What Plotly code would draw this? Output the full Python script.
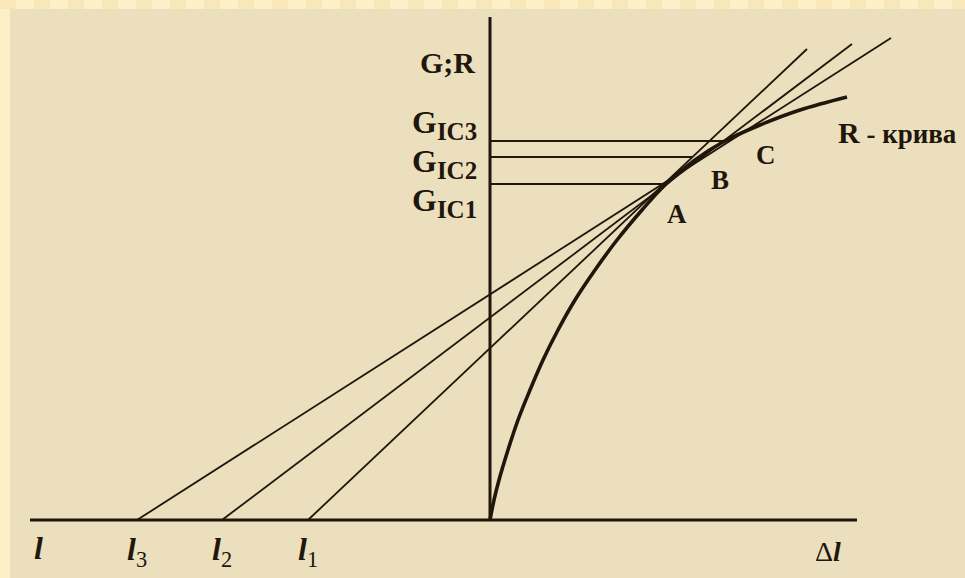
import plotly.graph_objects as go

# --- R-curve (crack resistance) vs crack extension, origin at the axes cross ---
r_curve_dl = [0, 4, 9, 18, 28, 40, 53, 68, 85, 105, 127, 152, 175, 205, 233, 270, 310, 357]
r_curve_R = [0, 20, 40, 70, 100, 130, 160, 190, 220, 250, 280, 310, 335, 360, 378, 395, 410, 423]

# initial crack lengths l1, l2, l3 (left of the origin) and far ends of their tangents
crack_names = ["1", "2", "3"]
crack_pos = [-182, -268, -353]
tangent_end_dl = [317, 362, 401]
tangent_end_R = [471, 476, 482]

# critical levels G_IC1..3 and the tangency points A, B, C
gic_levels = [336, 363, 379]
gic_touch_dl = [175, 203, 233]
touch_names = ["A", "B", "C"]

# axis extents
x_axis_from, x_axis_to = -460, 367
y_axis_top = 503

INK = "#1f160c"
FONT = "Liberation Serif, Times New Roman, serif"

fig = go.Figure()

# horizontal axis (crack length / extension)
fig.add_trace(go.Scatter(x=[x_axis_from, x_axis_to], y=[0, 0], mode="lines",
                         line=dict(color=INK, width=3), hoverinfo="skip"))
# vertical axis (G;R)
fig.add_trace(go.Scatter(x=[0, 0], y=[0, y_axis_top], mode="lines",
                         line=dict(color=INK, width=3), hoverinfo="skip"))

# G_IC horizontal levels
for lvl, xe in zip(gic_levels, gic_touch_dl):
    fig.add_trace(go.Scatter(x=[0, xe], y=[lvl, lvl], mode="lines",
                             line=dict(color=INK, width=1.8), hoverinfo="skip"))

# tangent lines from each crack length
for x0, xe, ye in zip(crack_pos, tangent_end_dl, tangent_end_R):
    fig.add_trace(go.Scatter(x=[x0, xe], y=[0, ye], mode="lines",
                             line=dict(color=INK, width=1.8), hoverinfo="skip"))

# R-curve
fig.add_trace(go.Scatter(x=r_curve_dl, y=r_curve_R, mode="lines",
                         line=dict(color=INK, width=3.6, shape="spline", smoothing=1.0),
                         hoverinfo="skip"))

ann = []

def label(x, y, text, size, xanchor="center", yanchor="middle"):
    ann.append(dict(x=x, y=y, xref="x", yref="y", text=text, showarrow=False,
                    xanchor=xanchor, yanchor=yanchor,
                    font=dict(family=FONT, size=size, color=INK)))

label(-43, 458, "<b>G;R</b>", 30)
gic_label_y = [318, 357, 396]
for name, yy in zip(crack_names, gic_label_y):
    label(-11, yy, "<b>G<sub><span style='font-size:25px'>IC%s</span></sub></b>" % name,
          32, xanchor="right")

touch_label_pos = [(187, 306), (230, 340), (276, 365)]
for name, (xx, yy) in zip(touch_names, touch_label_pos):
    label(xx, yy, "<b>%s</b>" % name, 27)

label(346, 388, "<b>R<span style='font-size:27px'> - крива</span></b>", 30, xanchor="left")

label(-452, -28, "<b><i>l</i></b>", 32)
for name, x0 in zip(crack_names, crack_pos):
    label(x0 - 12, -31, "<b><i>l</i></b><sub>%s</sub>" % name, 32, xanchor="left")
label(338, -31, "Δ<b><i>l</i></b>", 28)

# faint streaks in the outer frame
shapes = []
for sx in range(0, 965, 34):
    shapes.append(dict(type="rect", xref="paper", yref="paper",
                       x0=(sx - 10) / 955, x1=(sx + 6) / 955, y0=1.0, y1=1 + 9 / 569,
                       fillcolor="#f2dca6", opacity=0.45, line=dict(width=0), layer="below"))

fig.update_layout(
    width=965, height=578,
    margin=dict(l=10, r=0, t=9, b=0),
    paper_bgcolor="#fcf0c9",
    plot_bgcolor="#ecdfbd",
    showlegend=False,
    xaxis=dict(range=[-480, 475], visible=False, fixedrange=True),
    yaxis=dict(range=[-58, 511], visible=False, fixedrange=True),
    annotations=ann,
    shapes=shapes,
)

fig.write_html("out.html", config={"displayModeBar": False})
